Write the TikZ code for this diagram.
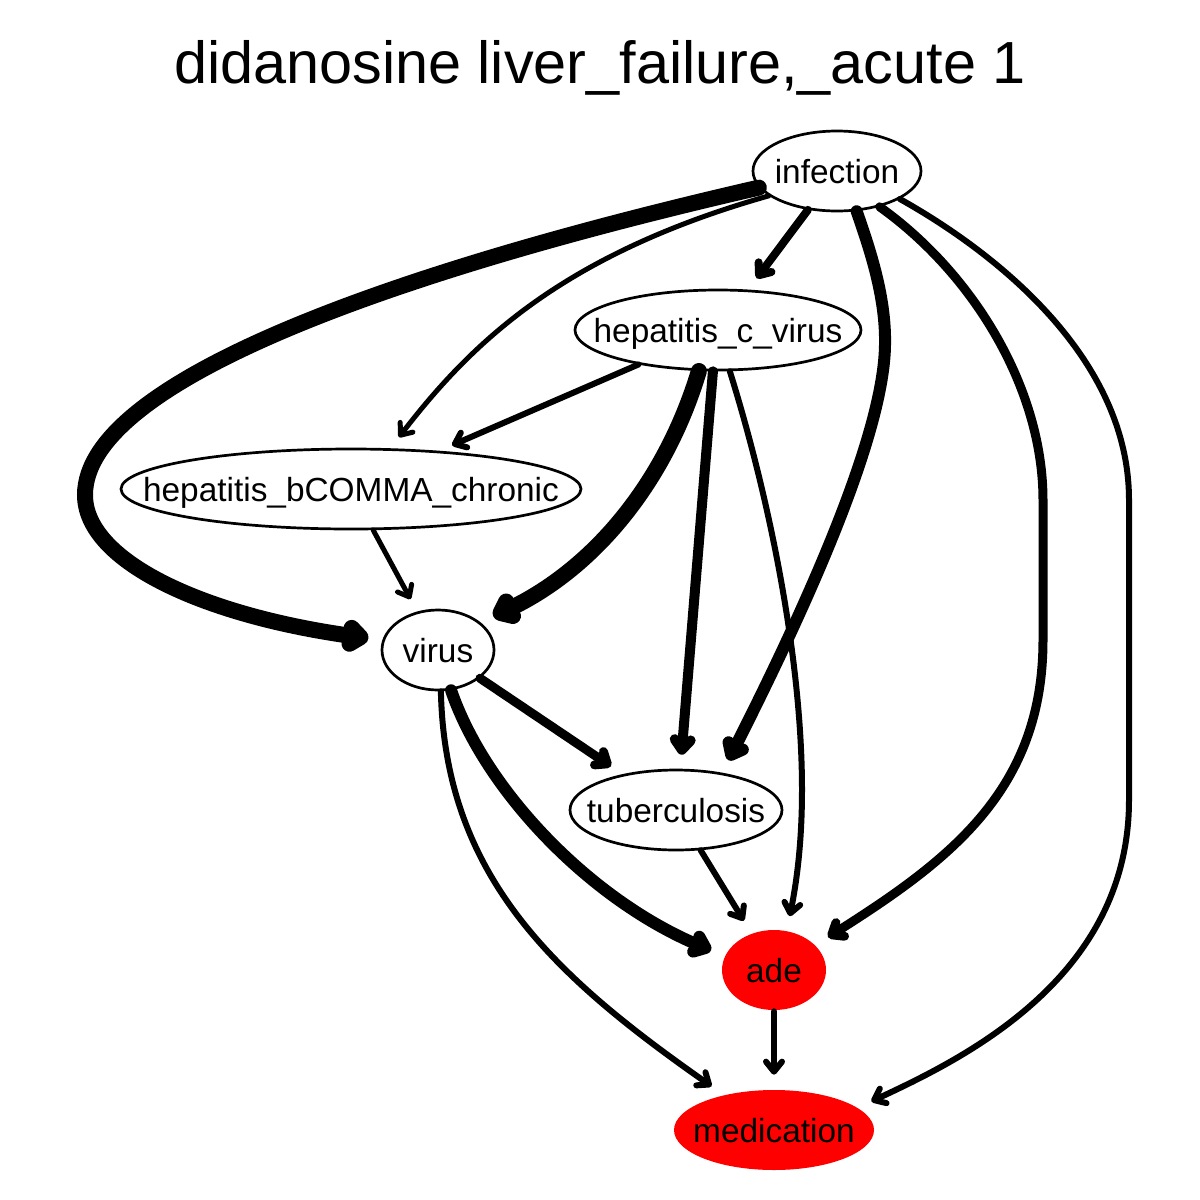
\documentclass[tikz,border=0pt]{standalone}
\usepackage{fontspec}
\setmainfont{Liberation Sans}
\usetikzlibrary{arrows.meta,shapes.geometric}

\begin{document}
\begin{tikzpicture}[x=0.5pt,y=-0.5pt,
    var/.style={ellipse,draw,line width=1.35pt,inner sep=0pt,minimum height=40pt,
      text height=12.5pt,text depth=0pt,font=\fontsize{16.7}{20}\selectfont},
    outcome/.style={var,draw=none,fill=red},
    dep/.style={-{Straight Barb[round,length=5pt,width=8pt]},line cap=round,shorten >=7pt}]
  \useasboundingbox (0,0) rectangle (1200,1200);

  \node[anchor=base,font=\fontsize{29.7}{34}\selectfont] (title) at (600,83)
    {didanosine liver\_failure,\_acute 1};

  % nodes
  \node[var,minimum width=84pt]      (infection) at (837,171)  {\makebox[0pt]{infection}};
  \node[var,minimum width=143pt]     (hepc)      at (718,330)  {\makebox[0pt]{hepatitis\_c\_virus}};
  \node[var,minimum width=230pt]     (hepb)      at (351,489)  {\makebox[0pt]{hepatitis\_bCOMMA\_chronic}};
  \node[var,minimum width=56pt]      (virus)     at (438,650)  {\makebox[0pt]{virus}};
  \node[var,minimum width=106pt]     (tub)       at (676,810)  {\makebox[0pt]{tuberculosis}};
  \node[outcome,minimum width=52pt]  (ade)       at (774,970)  {\makebox[0pt]{ade}};
  \node[outcome,minimum width=100pt] (med)       at (774,1130) {\makebox[0pt]{medication}};

  % edges out of infection
  \draw[dep,line width=8pt] (infection.192) .. controls (400,270) and (85,380) .. (85,495)
    .. controls (85,560) and (200,615) .. (virus.170);
  \draw[dep,line width=2.5pt] (infection.200) .. controls (560,255) and (470,345) .. (hepb.46);
  \draw[dep,line width=4pt] (infection) -- (hepc);
  \draw[dep,line width=6pt] (infection.-64) .. controls (872,255) and (886,300) .. (885,345)
    .. controls (884,420) and (830,560) .. (tub.39);
  \draw[dep,line width=4.5pt] (infection.-40) .. controls (975,275) and (1043,390) .. (1043,500)
    -- (1043,640) .. controls (1043,790) and (950,860) .. (ade.31);
  \draw[dep,line width=3pt] (infection.-24) .. controls (1000,255) and (1129,360) .. (1129,500)
    -- (1129,800) .. controls (1129,980) and (960,1060) .. (med.15);

  % edges out of hepatitis_c_virus
  \draw[dep,line width=3pt] (hepc) -- (hepb);
  \draw[dep,line width=8pt] (hepc.-115) .. controls (664,487) and (590,571) .. (virus.33);
  \draw[dep,line width=5pt] (hepc.-97) -- (tub.84);
  \draw[dep,line width=3pt] (hepc.-74) .. controls (770,500) and (802,660) .. (802,790)
    .. controls (802,850) and (795,890) .. (ade.72);

  % the rest
  \draw[dep,line width=2.5pt] (hepb) -- (virus);
  \draw[dep,line width=4.5pt] (virus) -- (tub);
  \draw[dep,line width=6pt] (virus.-72) .. controls (485,790) and (590,900) .. (ade.164);
  \draw[dep,line width=3pt] (virus.-86) .. controls (445,880) and (560,980) .. (med.145);
  \draw[dep,line width=3pt] (tub) -- (ade);
  \draw[dep,line width=3pt] (ade) -- (med);
\end{tikzpicture}
\end{document}
